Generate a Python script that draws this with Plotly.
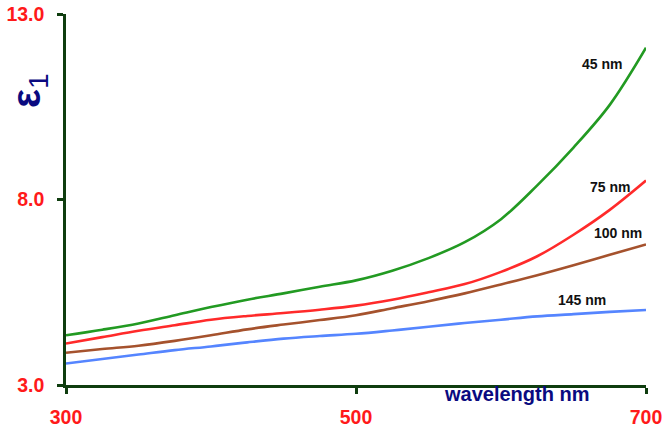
import plotly.graph_objects as go

wavelength = [300, 325, 350, 375, 400, 425, 450, 475, 500, 525, 550, 575, 600, 625, 650, 675, 700]
eps_45nm = [4.34, 4.49, 4.66, 4.88, 5.10, 5.30, 5.47, 5.65, 5.82, 6.08, 6.42, 6.85, 7.47, 8.38, 9.40, 10.55, 12.09]
eps_75nm = [4.12, 4.29, 4.46, 4.61, 4.76, 4.86, 4.94, 5.03, 5.14, 5.30, 5.50, 5.72, 6.05, 6.47, 7.05, 7.72, 8.51]
eps_100nm = [3.87, 3.97, 4.06, 4.19, 4.34, 4.50, 4.63, 4.75, 4.88, 5.07, 5.26, 5.47, 5.71, 5.96, 6.23, 6.51, 6.79]
eps_145nm = [3.58, 3.70, 3.82, 3.94, 4.04, 4.15, 4.25, 4.32, 4.38, 4.47, 4.57, 4.67, 4.76, 4.85, 4.91, 4.97, 5.02]

series_names = ["45 nm", "75 nm", "100 nm", "145 nm"]
series_vals = [eps_45nm, eps_75nm, eps_100nm, eps_145nm]
colors = ["#229a22", "#ff2a2a", "#a5522d", "#5585ff"]
label_x = [669.7, 675.0, 680.7, 655.9]
label_y = [11.66, 8.35, 7.09, 5.28]

x_ticks = [300, 500, 700]
x_ticklabels = ["300", "500", "700"]
y_ticks = [3, 8, 13]
y_ticklabels = ["3.0", "8.0", "13.0"]

axis_color = "#0f3d0f"
FONT = "Liberation Sans, Arial, sans-serif"
L, R, T, B = 66, 17, 14, 45
W, H = 663, 430
PW, PH = W - L - R, H - T - B


def px(xp):
    return (xp - L) / PW


def py(yp):
    return (H - B - yp) / PH


fig = go.Figure()
for name, vals, c in zip(series_names, series_vals, colors):
    fig.add_trace(go.Scatter(x=wavelength, y=vals, mode="lines", name=name,
                             line=dict(color=c, width=2.6, shape="spline", smoothing=1.0),
                             showlegend=False))

for name, lx, ly in zip(series_names, label_x, label_y):
    fig.add_annotation(x=lx, y=ly, xref="x", yref="y", text="<b>" + name + "</b>",
                       showarrow=False, font=dict(family=FONT, size=14, color="#111111"))

fig.add_annotation(x=px(516), y=py(394), xref="paper", yref="paper",
                   xanchor="center", yanchor="middle",
                   text="<b>wavelength nm</b>", showarrow=False,
                   font=dict(family=FONT, size=20, color="#0a0a80"))
fig.add_annotation(x=px(29), y=py(91), xref="paper", yref="paper",
                   xanchor="center", yanchor="middle",
                   text="<b>ε</b><sub>1</sub>", showarrow=False, textangle=-90,
                   font=dict(family=FONT, size=40, color="#0a0a80"))

fig.update_layout(
    width=W, height=H,
    margin=dict(l=L, r=R, t=T, b=B, autoexpand=False),
    paper_bgcolor="white", plot_bgcolor="white",
    xaxis=dict(range=[300, 700], tickvals=x_ticks, ticktext=["<b>" + t + "</b>" for t in x_ticklabels],
               automargin=False,
               showgrid=False, zeroline=False, showline=True, linecolor=axis_color, linewidth=2.5,
               ticks="outside", ticklen=6, tickwidth=2.5, tickcolor=axis_color,
               ticklabelstandoff=7,
               tickfont=dict(family=FONT, size=19.5, color="#ff1a1a", weight=700)),
    yaxis=dict(range=[3, 13], tickvals=y_ticks, ticktext=["<b>" + t + "</b>" for t in y_ticklabels],
               automargin=False,
               showgrid=False, zeroline=False, showline=True, linecolor=axis_color, linewidth=2.5,
               ticks="outside", ticklen=6, tickwidth=2.5, tickcolor=axis_color,
               ticklabelstandoff=9,
               tickfont=dict(family=FONT, size=19.5, color="#ff1a1a", weight=700)),
)

fig.write_html("out.html")
